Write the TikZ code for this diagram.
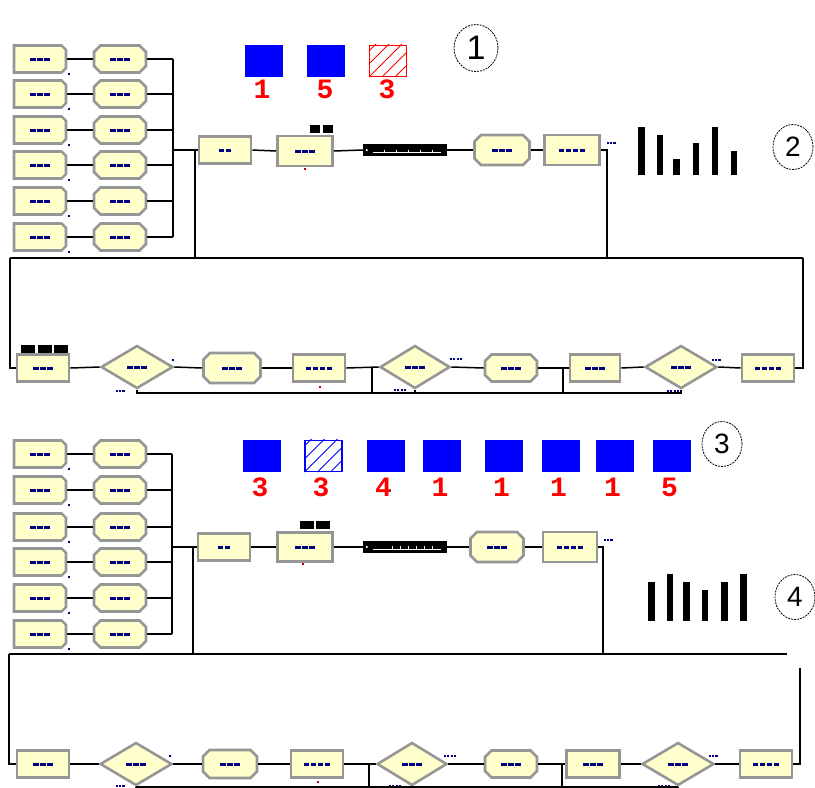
\documentclass[tikz,border=0pt]{standalone}
\usepackage{fontspec}
\newfontfamily\numfont{Liberation Mono}
\newfontfamily\circfont{Liberation Sans}
\usetikzlibrary{shapes.geometric,shapes.misc}
\definecolor{modfill}{RGB}{255,255,204}
\definecolor{modedge}{RGB}{150,150,150}
\definecolor{lblue}{RGB}{0,0,130}
\definecolor{sqblue}{RGB}{0,0,255}
\definecolor{sqred}{RGB}{255,0,0}
\newcommand\lbd[1]{\foreach \i in {1,...,#1}{\rule{5.5pt}{3pt}\hspace{1.6pt}}}
\newcommand\tagd[1]{\foreach \i in {1,...,#1}{\rule{2.2pt}{2.2pt}\hspace{1.2pt}}}
\begin{document}
\begin{tikzpicture}[x=1pt,y=-1pt,
 mod/.style={draw=modedge, line width=2.6pt, fill=modfill, inner sep=0pt, minimum width=52pt, minimum height=27pt, text=lblue},
 rectm/.style={mod, rectangle},
 createm/.style={mod, chamfered rectangle, chamfered rectangle corners={north east,south east}, chamfered rectangle xsep=4pt},
 octm/.style={mod, chamfered rectangle, chamfered rectangle xsep=5pt, chamfered rectangle ysep=5pt},
 decm/.style={mod, diamond, minimum width=72pt, minimum height=43pt},
 wire/.style={line width=1.5pt, black},
 qsq/.style={fill=black, draw=none, inner sep=0pt, minimum width=14pt, minimum height=8pt},
 barm/.style={fill=black, draw=none, inner sep=0pt, minimum width=84pt, minimum height=12pt},
 tag/.style={inner sep=0pt, text=lblue},
 rdot/.style={fill=sqred!75!black, draw=none, inner sep=0pt, minimum size=2.5pt},
 bsq/.style={fill=sqblue, draw=none, inner sep=0pt, minimum width=38pt, minimum height=32pt},
 hsq/.style={draw=#1, line width=1.2pt, fill=white, inner sep=0pt, minimum width=37pt, minimum height=31pt},
 rnum/.style={text=sqred, font=\numfont\bfseries\fontsize{28}{28}\selectfont, inner sep=0pt},
 circ/.style={draw, ellipse, line width=0.8pt, dash pattern=on 2pt off 1pt, minimum width=40pt, minimum height=45pt, inner sep=0pt, font=\circfont\fontsize{28}{28}\selectfont}
]
\useasboundingbox (0,0) rectangle (815,788);

% ================= SECTION 1 =================
\node[bsq] (s11) at (264,61) {};
\node[bsq] (s12) at (326,61) {};
\node[hsq=sqred] (s13) at (388,61) {};
\begin{scope}
\clip (s13.south west) rectangle (s13.north east);
\foreach \k in {-26,-13,0,13,26} \draw[sqred, line width=1pt] ([xshift=\k pt]s13.south west) -- ++(40,-40);
\end{scope}
\node[rnum] (n11) at (262,89) {1};
\node[rnum] (n12) at (325,89) {5};
\node[rnum] (n13) at (387,89) {3};
\node[circ, minimum width=44pt, minimum height=47pt, font=\circfont\fontsize{34}{34}\selectfont] (ci1) at (476,48) {1};

% bars
\fill (638,127) rectangle (645,175);
\fill (657,135) rectangle (663,175);
\fill (673,159) rectangle (680,175);
\fill (693,143) rectangle (699,175);
\fill (712,127) rectangle (718,175);
\fill (731,151) rectangle (737,175);
\node[circ] (ci2) at (793,147) {2};

% left columns
\coordinate (bus1) at (173,0);
\foreach \y [count=\i] in {59,94,130,165,201,237} {
  \node[createm] (c\i) at (40,\y) {\lbd{3}};
  \node[octm] (a\i) at (120,\y) {\lbd{3}};
  \node[tag] (cd\i) at (69,\y+15) {\tagd{1}};
  \draw[wire] (c\i.east) -- (a\i.west);
  \draw[wire] (a\i.east) -- (a\i.east -| bus1);
}
\draw[wire] (bus1 |- a1.east) -- (bus1 |- a6.east);

% top middle row
\coordinate (m1) at (173,150);
\coordinate (m2) at (195,150);
\coordinate (m3) at (195,258);
\node[rectm] (b1) at (225,150) {\lbd{2}};
\node[rectm, minimum width=55pt, minimum height=30pt] (p1) at (305,151) {\lbd{3}};
\node[qsq, minimum width=10pt] (q11) at (315,129) {};
\node[qsq, minimum width=10pt] (q12) at (328,129) {};
\node[rdot] (rd1) at (305,169) {};
\node[barm] (r1) at (405,150) {};
\draw[white, line width=0.9pt] ([xshift=10pt,yshift=-2.5pt]r1.west) -- ([xshift=-6pt,yshift=-2.5pt]r1.east);
\foreach \t in {22,34,46,58,70} \draw[white, line width=0.8pt] ([xshift=\t pt,yshift=-2.5pt]r1.west) -- ++(0,-3);
\fill[white] ([xshift=4pt]r1.west) circle (1.2pt);
\node[octm, minimum width=55pt, minimum height=30pt] (o1) at (502,150) {\lbd{3}};
\node[rectm, minimum width=55pt, minimum height=30pt] (e1) at (572,150) {\lbd{4}};
\node[tag] (k1) at (611,143) {\tagd{3}};
\coordinate (t1) at (607,150);
\draw[wire] (m1) -- (m2) -- (b1.west);
\draw[wire] (m2) -- (m3);
\draw[wire] (b1.east) -- (p1.west);
\draw[wire] (p1.east) -- (r1.west);
\draw[wire] (r1.east) -- (o1.west);
\draw[wire] (o1.east) -- (e1.west);
\draw[wire] (e1.east) -- (t1) -- (t1 |- m3);

% long horizontal
\coordinate (h1L) at (10,258);
\coordinate (h1R) at (803,258);
\draw[wire] (h1L) -- (h1R);

% bottom row section 1
\node[rectm] (A1) at (43,368) {\lbd{3}};
\node[qsq] (q21) at (28,349) {};
\node[qsq] (q22) at (44.5,349) {};
\node[qsq] (q23) at (61,349) {};
\node[decm] (D1) at (137,367) {\lbd{3}};
\node[octm, minimum width=57pt, minimum height=30pt] (O2) at (232,368) {\lbd{3}};
\node[rectm] (P2) at (319,368) {\lbd{4}};
\node[rdot] (rd2) at (320,387) {};
\node[decm, minimum width=70pt] (D2) at (415,367) {\lbd{3}};
\node[octm] (O3) at (511,368) {\lbd{3}};
\node[rectm, minimum width=50pt] (R3) at (595,368) {\lbd{3}};
\node[decm] (D3) at (681,367) {\lbd{3}};
\node[rectm] (R4) at (768,368) {\lbd{4}};
\node[tag] (g1) at (173,360) {\tagd{1}};
\node[tag] (g2) at (120,391) {\tagd{3}};
\node[tag] (g3) at (456,359) {\tagd{4}};
\node[tag] (g4) at (400,390) {\tagd{4}};
\node[tag] (g5) at (716,360) {\tagd{3}};
\node[tag] (g6) at (673,391) {\tagd{4}};
\coordinate (j1) at (372,368);
\coordinate (j2) at (563,368);
\coordinate (bl1) at (0,393);
\draw[wire] (h1L) |- (A1.west);
\draw[wire] (h1R) |- (R4.east);
\draw[wire] (A1.east) -- (D1.west);
\draw[wire] (D1.east) -- (O2.west);
\draw[wire] (O2.east) -- (P2.west);
\draw[wire] (P2.east) -- (D2.west);
\draw[wire] (D2.east) -- (O3.west);
\draw[wire] (O3.east) -- (R3.west);
\draw[wire] (R3.east) -- (D3.west);
\draw[wire] (D3.east) -- (R4.west);
\draw[wire] (j1) -- (j1 |- bl1);
\draw[wire] (j2) -- (j2 |- bl1);
\draw[wire] (D1.south) -- (D1.south |- bl1) -- (D3.south |- bl1) -- (D3.south);
\draw[wire] (D2.south) -- (D2.south |- bl1);

% ================= SECTION 2 =================
\foreach \x/\n [count=\i] in {262/3,385.5/4,442/1,503.5/1,560.5/1,614.5/1,671.5/5} {
  \node[bsq] (u\i) at (\x,456) {};
  \node[rnum] (v\i) at (\x-2,487) {\n};
}
\node[hsq=sqblue] (uh) at (323.5,456) {};
\begin{scope}
\clip (uh.south west) rectangle (uh.north east);
\foreach \k in {-26,-13,0,13,26} \draw[sqblue, line width=1pt] ([xshift=\k pt]uh.south west) -- ++(40,-40);
\end{scope}
\node[rnum] (vh) at (321,487) {3};
\node[circ] (ci3) at (722,444) {3};

\fill (648,582) rectangle (655,621);
\fill (667,574) rectangle (673,621);
\fill (683,582) rectangle (690,621);
\fill (702,590) rectangle (708,621);
\fill (721,582) rectangle (728,621);
\fill (740,574) rectangle (747,621);
\node[circ] (ci4) at (795,597) {4};

\coordinate (bus2) at (172,0);
\foreach \y [count=\i] in {454,490,527,562,598,634} {
  \node[createm] (cc\i) at (40,\y) {\lbd{3}};
  \node[octm] (aa\i) at (120,\y) {\lbd{3}};
  \node[tag] (ccd\i) at (69,\y+15) {\tagd{1}};
  \draw[wire] (cc\i.east) -- (aa\i.west);
  \draw[wire] (aa\i.east) -- (aa\i.east -| bus2);
}
\draw[wire] (bus2 |- aa1.east) -- (bus2 |- aa6.east);

\coordinate (mm1) at (172,547);
\coordinate (mm2) at (193,547);
\coordinate (mm3) at (193,654);
\node[rectm] (bb1) at (224,547) {\lbd{2}};
\node[rectm, minimum width=55pt, minimum height=29pt] (pp1) at (305,547) {\lbd{3}};
\node[qsq] (qq1) at (307,525) {};
\node[qsq] (qq2) at (323,525) {};
\node[rdot] (rd3) at (303,564) {};
\node[barm] (rr1) at (405,547) {};
\draw[white, line width=0.9pt] ([xshift=10pt,yshift=-2.5pt]rr1.west) -- ([xshift=-6pt,yshift=-2.5pt]rr1.east);
\foreach \t in {30,38,46,54,62,70} \draw[white, line width=0.8pt] ([xshift=\t pt,yshift=-2.5pt]rr1.west) -- ++(0,-4);
\fill[white] ([xshift=4pt]rr1.west) circle (1.2pt);
\node[octm, minimum width=53pt, minimum height=30pt] (oo1) at (497,547) {\lbd{3}};
\node[rectm, minimum width=54pt, minimum height=30pt] (ee1) at (570,547) {\lbd{4}};
\node[tag] (kk1) at (608,540) {\tagd{3}};
\coordinate (tt1) at (603,547);
\draw[wire] (mm1) -- (mm2) -- (bb1.west);
\draw[wire] (mm2) -- (mm3);
\draw[wire] (bb1.east) -- (pp1.west);
\draw[wire] (pp1.east) -- (rr1.west);
\draw[wire] (rr1.east) -- (oo1.west);
\draw[wire] (oo1.east) -- (ee1.west);
\draw[wire] (ee1.east) -- (tt1) -- (tt1 |- mm3);

\coordinate (h2L) at (9,654);
\coordinate (h2R) at (787,654);
\coordinate (v2T) at (800,668);
\draw[wire] (h2L) -- (h2R);

\node[rectm] (AA1) at (43,764) {\lbd{3}};
\node[decm] (DD1) at (136,764) {\lbd{3}};
\node[octm, minimum width=54pt, minimum height=28pt] (OO2) at (230,764) {\lbd{3}};
\node[rectm] (PP2) at (317,764) {\lbd{4}};
\node[rdot] (rd4) at (318,782) {};
\node[decm, minimum width=70pt] (DD2) at (412,764) {\lbd{3}};
\node[octm] (OO3) at (511,764) {\lbd{3}};
\node[rectm, minimum width=53pt] (RR3) at (593,764) {\lbd{3}};
\node[decm] (DD3) at (678,764) {\lbd{3}};
\node[rectm] (RR4) at (766,764) {\lbd{4}};
\node[tag] (gg1) at (170,756) {\tagd{1}};
\node[tag] (gg2) at (120,786) {\tagd{3}};
\node[tag] (gg3) at (450,756) {\tagd{4}};
\node[tag] (gg4) at (395,786) {\tagd{4}};
\node[tag] (gg5) at (713,756) {\tagd{3}};
\node[tag] (gg6) at (664,786) {\tagd{4}};
\coordinate (jj1) at (369,764);
\coordinate (jj2) at (562,764);
\coordinate (bl2) at (0,787);
\draw[wire] (h2L) |- (AA1.west);
\draw[wire] (v2T) |- (RR4.east);
\draw[wire] (AA1.east) -- (DD1.west);
\draw[wire] (DD1.east) -- (OO2.west);
\draw[wire] (OO2.east) -- (PP2.west);
\draw[wire] (PP2.east) -- (DD2.west);
\draw[wire] (DD2.east) -- (OO3.west);
\draw[wire] (OO3.east) -- (RR3.west);
\draw[wire] (RR3.east) -- (DD3.west);
\draw[wire] (DD3.east) -- (RR4.west);
\draw[wire] (jj1) -- (jj1 |- bl2);
\draw[wire] (jj2) -- (jj2 |- bl2);
\draw[wire] (DD1.south) -- (DD1.south |- bl2) -- (DD3.south |- bl2) -- (DD3.south);
\draw[wire] (DD2.south) -- (DD2.south |- bl2);
\end{tikzpicture}
\end{document}
